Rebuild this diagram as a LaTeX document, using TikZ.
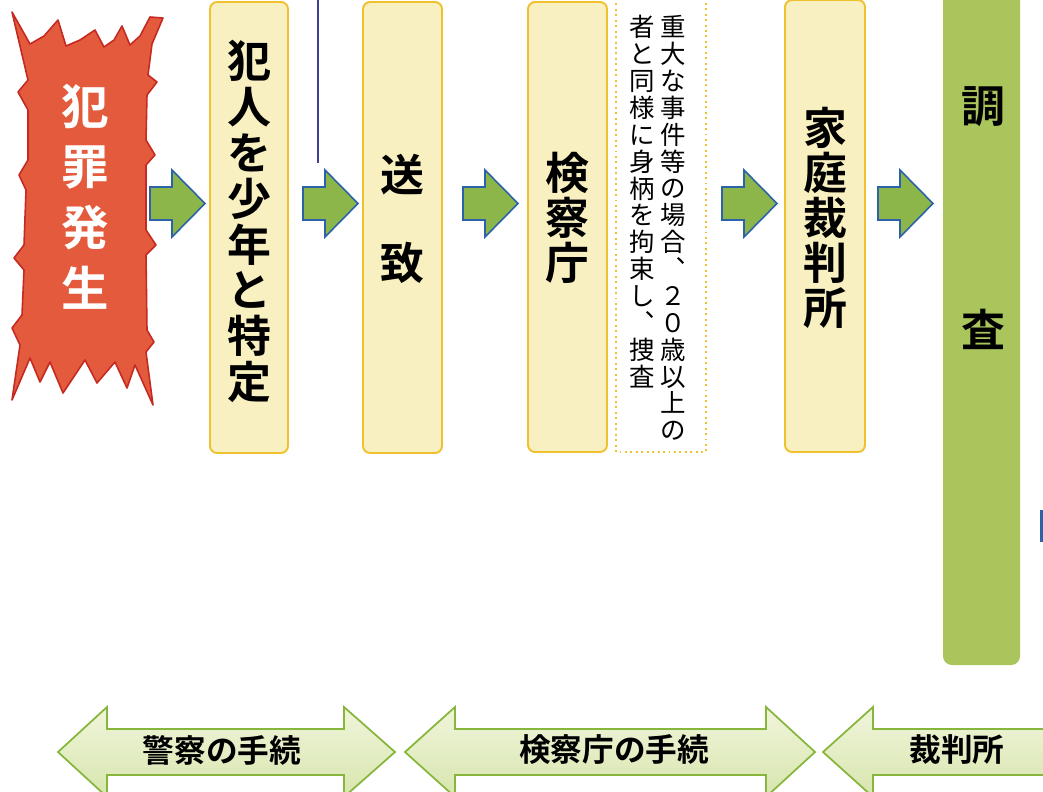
\documentclass[tikz,border=0pt]{standalone}
\usepackage{fontspec}
\newfontfamily\jp{Noto Sans CJK JP}[BoldFont={Noto Sans CJK JP Bold}]
\newcommand{\tightlines}{\lineskiplimit=-100pt\relax}

\definecolor{boom}{HTML}{E45A3C}
\definecolor{boomedge}{HTML}{C42A22}
\definecolor{paper}{HTML}{F8F0C0}
\definecolor{gold}{HTML}{EFC12E}
\definecolor{leaf}{HTML}{8CB54A}
\definecolor{navy}{HTML}{2B62A8}
\definecolor{moss}{HTML}{A9C55B}
\definecolor{pale}{HTML}{E6EEC2}
\definecolor{fern}{HTML}{86B63C}
\definecolor{ink}{HTML}{3B3F96}

\begin{document}
\begin{tikzpicture}[x=0.02cm,y=-0.02cm,
    stepbox/.style={draw=gold, fill=paper, line width=1.1pt, rounded corners=4pt},
    vlabel/.style={align=center, inner sep=0pt},
    fwd/.pic={\draw[draw=navy, fill=leaf, line width=0.9pt]
        (0,-16.5) -- (22,-16.5) -- (22,-33.5) -- (55,0) -- (22,33.5) -- (22,16.5) -- (0,16.5) -- cycle;},
    phase/.style={draw=fern, line width=1pt, top color=pale!60!white, bottom color=pale!85!fern},
    phaselabel/.style={font=\jp\bfseries\fontsize{18}{20}\selectfont, inner sep=0pt}]
    \useasboundingbox (0,0) rectangle (1043,791);
    \clip (0,0) rectangle (1043,791);

    % explosion
    \draw[fill=boom, draw=boomedge, line width=0.9pt, line join=round]
        (12,12) -- (30,44) -- (44,36) -- (58,20) -- (66,46) -- (80,40) -- (95,30) -- (104,47)
        -- (114,40) -- (122,26) -- (130,45) -- (140,36) -- (150,17) -- (163,18) -- (152,44)
        -- (148,75) -- (157,82) -- (147,95) -- (146,140) -- (155,155) -- (146,165) -- (146,230)
        -- (156,245) -- (146,255) -- (147,330) -- (154,342) -- (146,352) -- (153,405)
        -- (135,365) -- (127,388) -- (115,362) -- (97,383) -- (85,360) -- (63,393) -- (50,362)
        -- (40,382) -- (30,358) -- (12,400) -- (20,345) -- (12,328) -- (22,315) -- (24,270)
        -- (14,258) -- (24,245) -- (26,190) -- (19,175) -- (28,160) -- (28,110) -- (18,92)
        -- (28,80) -- cycle;
    \node[vlabel, text=white, font=\jp\bfseries\fontsize{27}{34.6}\selectfont\tightlines] (crime) at (85,196.5)
        {犯\\罪\\発\\生};

    % stages
    \draw[stepbox] (210,2) rectangle (288,453);
    \draw[stepbox] (363,2) rectangle (442,453);
    \draw[stepbox] (528,2) rectangle (607,452);
    \draw[stepbox] (785,0) rectangle (865,452);
    \draw[fill=moss, draw=none, rounded corners=5pt] (943,-20) rectangle (1020,665);
    \draw[gold, dotted, line width=1.1pt] (616,-2) rectangle (706,452);

    \node[vlabel, font=\jp\bfseries\fontsize{25}{26.1}\selectfont\tightlines] (identify) at (249,221.5)
        {犯\\人\\を\\少\\年\\と\\特\\定};
    \node[vlabel, font=\jp\bfseries\fontsize{25}{49.9}\selectfont] (sendoff) at (402,219) {送\\致};
    \node[vlabel, font=\jp\bfseries\fontsize{25}{25.5}\selectfont\tightlines] (prosecutor) at (567,218) {検\\察\\庁};
    \node[vlabel, font=\jp\bfseries\fontsize{25}{25.6}\selectfont\tightlines] (familycourt) at (825,218)
        {家\\庭\\裁\\判\\所};
    \node[vlabel, font=\jp\bfseries\fontsize{25}{127.6}\selectfont] (inquiry) at (983,218.5) {調\\査};

    % note beside the prosecutor
    \node[vlabel, anchor=north, font=\jp\fontsize{14.5}{15.3}\selectfont\tightlines] (noteright) at (673,15)
        {重\\大\\な\\事\\件\\等\\の\\場\\合\\︑\\２\\０\\歳\\以\\上\\の};
    \node[vlabel, anchor=north, font=\jp\fontsize{14.5}{15.3}\selectfont\tightlines] (noteleft) at (642,15)
        {者\\と\\同\\様\\に\\身\\柄\\を\\拘\\束\\し\\︑\\捜\\査};

    % flow arrows
    \foreach \ax in {150,303,463,722,878}
        \pic at (\ax,203.5) {fwd};

    \draw[ink, line width=0.9pt] (318,0) -- (318,163);
    \draw[navy, line width=1.6pt] (1041.5,510) -- (1041.5,542);

    % phases
    \draw[phase] (58,752) -- (107,707) -- (107,729) -- (344,729) -- (344,707) -- (395,752)
        -- (344,797) -- (344,775) -- (107,775) -- (107,797) -- cycle;
    \draw[phase] (405,752) -- (455,707) -- (455,729) -- (766,729) -- (766,707) -- (815,752)
        -- (766,797) -- (766,775) -- (455,775) -- (455,797) -- cycle;
    \draw[phase] (1100,729) -- (873,729) -- (873,707) -- (823,752) -- (873,797) -- (873,775)
        -- (1100,775);
    \node[phaselabel] (policeproc) at (222,750) {警察の手続};
    \node[phaselabel] (prosproc) at (614,750) {検察庁の手続};
    \node[phaselabel] (courtproc) at (957,750) {裁判所};
\end{tikzpicture}
\end{document}
